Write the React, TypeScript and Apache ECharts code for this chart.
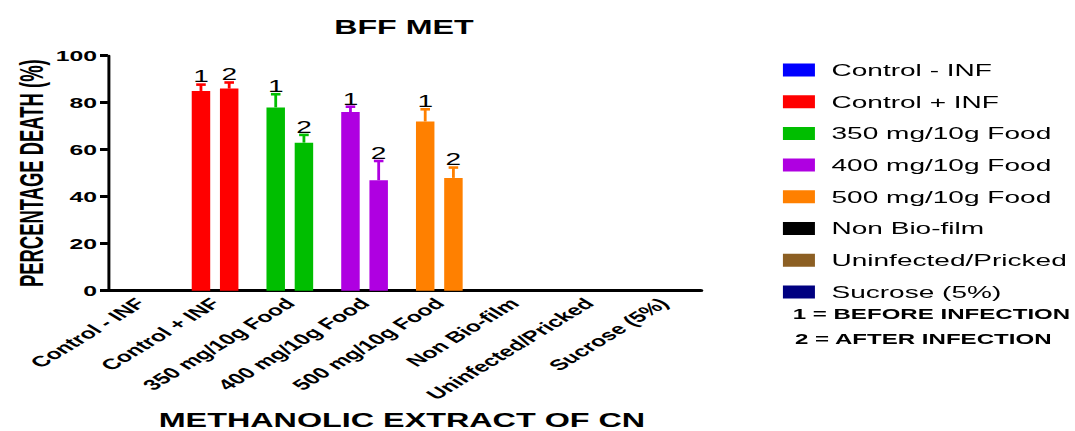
import React, { useEffect, useRef } from "react";
import * as echarts from "echarts";

const categories = [
  "Control - INF",
  "Control + INF",
  "350 mg/10g Food",
  "400 mg/10g Food",
  "500 mg/10g Food",
  "Non Bio-film",
  "Uninfected/Pricked",
  "Sucrose (5%)",
];
const categoryColors = [
  "#0000FF",
  "#FF0000",
  "#00BE00",
  "#AF00E1",
  "#FF8000",
  "#000000",
  "#8C5F23",
  "#000080",
];
const beforeValues: (number | null)[] = [null, 85, 78, 76, 72, null, null, null];
const beforeErrors: (number | null)[] = [null, 2.7, 5.6, 2.3, 5.2, null, null, null];
const afterValues: (number | null)[] = [null, 86, 63, 47, 48, null, null, null];
const afterErrors: (number | null)[] = [null, 2.6, 3.3, 8.2, 4.4, null, null, null];
const groupLabels = ["1", "2"];
const footnotes = ["1 = BEFORE INFECTION", "2 = AFTER INFECTION"];
const chartTitle = "BFF MET";
const yName = "PERCENTAGE DEATH (%)";
const xName = "METHANOLIC EXTRACT OF CN";

const FONT = "'Liberation Sans', Arial, sans-serif";
const STRETCH = 1.65;
const FULL_W = 1075;
const FULL_H = 431;
const W = FULL_W / STRETCH;

const GRID_LEFT = 62.4;
const GRID_TOP = 55.7;
const GRID_H = 235;

const BAR_W = 11.2;
const BAR_GAP_PX = 5.9;
const OFFSET = (BAR_W + BAR_GAP_PX) / 2;

function errorData(values: (number | null)[], errors: (number | null)[], which: number) {
  const out: any[] = [];
  values.forEach((v, i) => {
    if (v != null) out.push([categories[i], v, errors[i] ?? 0, which, i]);
  });
  return out;
}

export default function App() {
  const ref = useRef<HTMLDivElement>(null);
  useEffect(() => {
    if (!ref.current) return;
    const chart = echarts.init(ref.current, undefined, {
      renderer: "svg",
      width: W,
      height: FULL_H,
    });

    const renderErr = (params: any, api: any) => {
      const ci = api.value(0);
      const v = api.value(1);
      const e = api.value(2);
      const which = api.value(3);
      const colorIdx = api.value(4);
      const base = api.coord([ci, v]);
      const top = api.coord([ci, v + e]);
      const x = base[0] + (which === 0 ? -OFFSET : OFFSET);
      const color = categoryColors[colorIdx];
      return {
        type: "group",
        children: [
          {
            type: "line",
            shape: { x1: x, y1: base[1], x2: x, y2: top[1] },
            style: { stroke: color, lineWidth: 1.7 },
          },
          {
            type: "line",
            shape: { x1: x - 2.9, y1: top[1], x2: x + 2.9, y2: top[1] },
            style: { stroke: color, lineWidth: 2.6 },
          },
          {
            type: "text",
            x: x,
            y: top[1] + 0.5,
            style: {
              text: groupLabels[which],
              textAlign: "center",
              textVerticalAlign: "bottom",
              fontFamily: FONT,
              fontSize: 17,
              fill: "#000",
            },
          },
        ],
      };
    };

    const legendSeries = categories.map((c, i) => ({
      name: c,
      type: "scatter",
      data: [],
      itemStyle: { color: categoryColors[i], opacity: 1 },
    }));

    chart.setOption({
      animation: false,
      backgroundColor: "#fff",
      title: {
        text: chartTitle,
        left: 239.8,
        top: 12,
        textAlign: "center",
        textStyle: { fontFamily: FONT, fontWeight: "bold", fontSize: 19.5, color: "#000" },
      },
      grid: {
        left: GRID_LEFT,
        top: GRID_TOP,
        width: 362.4,
        height: GRID_H,
        containLabel: false,
        outerBoundsMode: "none",
      },
      legend: {
        orient: "vertical",
        left: 469.5,
        top: 55,
        icon: "rect",
        itemWidth: 19.4,
        itemHeight: 13,
        itemGap: 11.7,
        selectedMode: false,
        data: categories,
        itemStyle: { opacity: 1 },
        textStyle: {
          fontFamily: FONT,
          fontSize: 17,
          color: "#000",
          lineHeight: 20,
          padding: [0, 0, 0, 5],
        },
      },
      xAxis: {
        type: "category",
        data: categories,
        name: xName,
        nameLocation: "middle",
        nameGap: 119.5,
        nameTextStyle: { fontFamily: FONT, fontWeight: "bold", fontSize: 19.6, color: "#000" },
        axisLine: { lineStyle: { color: "#000", width: 3 } },
        axisTick: { alignWithLabel: true, length: 5, lineStyle: { color: "#000", width: 1.8 } },
        axisLabel: {
          rotate: 45,
          margin: 10,
          fontFamily: FONT,
          fontWeight: "bold",
          fontSize: 15,
          color: "#000",
          interval: 0,
        },
        splitLine: { show: false },
      },
      yAxis: {
        type: "value",
        min: 0,
        max: 100,
        interval: 20,
        offset: -3,
        axisLine: { show: true, lineStyle: { color: "#000", width: 1.8 } },
        axisTick: { show: true, length: 4.8, lineStyle: { color: "#000", width: 3 } },
        axisLabel: {
          margin: 6.6,
          fontFamily: FONT,
          fontWeight: "bold",
          fontSize: 15,
          color: "#000",
        },
        splitLine: { show: false },
      },
      graphic: [
        {
          type: "text",
          x: 19.2,
          y: GRID_TOP + GRID_H / 2,
          rotation: Math.PI / 2,
          scaleX: 0.9,
          style: {
            text: yName,
            textAlign: "center",
            textVerticalAlign: "middle",
            fontFamily: FONT,
            fontWeight: "bold",
            fontSize: 20.5,
            fill: "#000",
          },
        },
        ...footnotes.map((t, i) => ({
          type: "text",
          left: i === 0 ? 480.4 : 481.8,
          top: i === 0 ? 306.5 : 331,
          style: {
            text: t,
            fontFamily: FONT,
            fontWeight: "bold",
            fontSize: 14.6,
            fill: "#000",
          },
        })),
      ],
      series: [
        {
          name: "before",
          type: "bar",
          data: beforeValues.map((v) => (v == null ? "-" : v)),
          barWidth: BAR_W,
          barGap: (BAR_GAP_PX / BAR_W) * 100 + "%",
          itemStyle: { color: (p: any) => categoryColors[p.dataIndex] },
        },
        {
          name: "after",
          type: "bar",
          data: afterValues.map((v) => (v == null ? "-" : v)),
          barWidth: BAR_W,
          barGap: (BAR_GAP_PX / BAR_W) * 100 + "%",
          itemStyle: { color: (p: any) => categoryColors[p.dataIndex] },
        },
        {
          name: "errBefore",
          type: "custom",
          renderItem: renderErr,
          data: errorData(beforeValues, beforeErrors, 0),
          z: 5,
        },
        {
          name: "errAfter",
          type: "custom",
          renderItem: renderErr,
          data: errorData(afterValues, afterErrors, 1),
          z: 5,
        },
        ...legendSeries,
      ],
    });
    return () => chart.dispose();
  }, []);

  return (
    <div
      style={{
        position: "fixed",
        left: 0,
        top: 0,
        width: FULL_W,
        height: FULL_H,
        overflow: "hidden",
        background: "#fff",
      }}
    >
      <div
        ref={ref}
        style={{
          width: W,
          height: FULL_H,
          transform: `scaleX(${STRETCH})`,
          transformOrigin: "0 0",
        }}
      />
    </div>
  );
}
